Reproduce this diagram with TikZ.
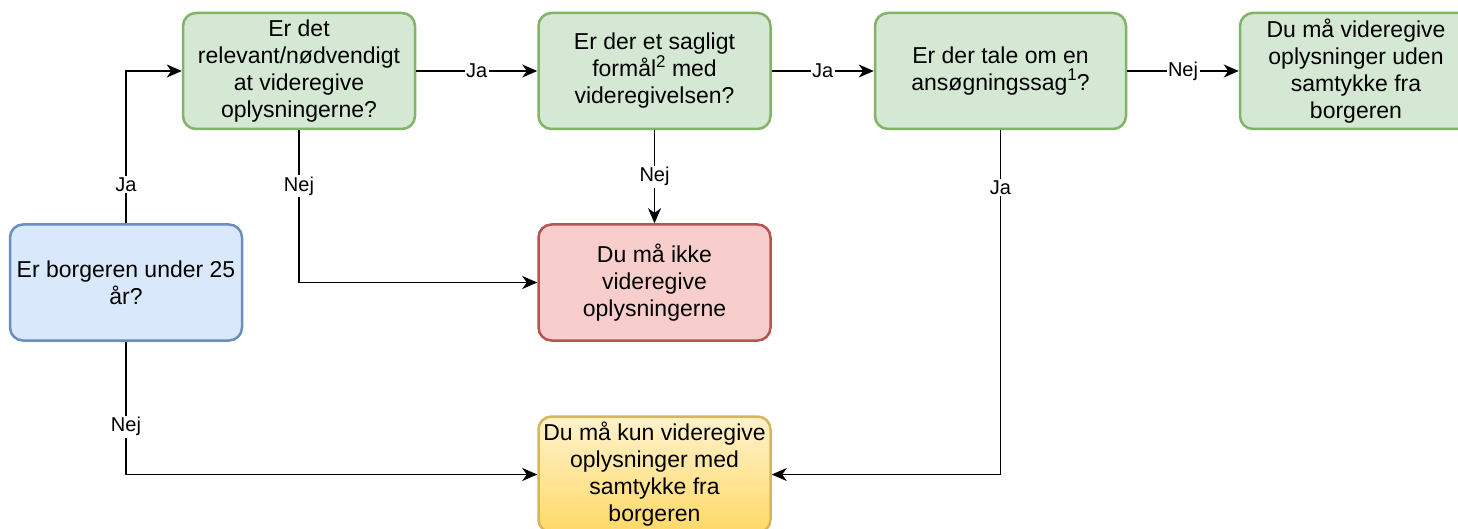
\documentclass[tikz,border=0pt]{standalone}
\usepackage{fontspec}
\setmainfont{Liberation Sans}
\usetikzlibrary{arrows.meta}
\definecolor{gbf}{HTML}{D5E8D4}
\definecolor{gbd}{HTML}{82B366}
\definecolor{bbf}{HTML}{DAE8FC}
\definecolor{bbd}{HTML}{6C8EBF}
\definecolor{rbf}{HTML}{F8CECC}
\definecolor{rbd}{HTML}{B85450}
\definecolor{ybt}{HTML}{FFF2CC}
\definecolor{ybb}{HTML}{FFD966}
\definecolor{ybd}{HTML}{D6B656}
\newcommand{\supx}[1]{\raisebox{0.42em}{\fontsize{17}{17}\selectfont #1}}
\tikzset{
  box/.style={rectangle, rounded corners=13pt, line width=2.5pt, minimum width=232pt, minimum height=116pt, inner sep=0pt, align=center, font=\fontsize{23}{27}\selectfont},
  greenbox/.style={box, draw=gbd, fill=gbf},
  bluebox/.style={box, draw=bbd, fill=bbf},
  redbox/.style={box, draw=rbd, fill=rbf},
  yellowbox/.style={box, draw=ybd, top color=ybt, bottom color=ybb},
  arr/.style={line width=1.8pt, -{Stealth[length=15pt,width=13pt,inset=4.5pt]}},
  lbl/.style={fill=white, inner sep=1.5pt, font=\fontsize{20}{23}\selectfont}
}
\begin{document}
\begin{tikzpicture}[x=1pt,y=-1pt]
\useasboundingbox (0,0) rectangle (1458,529);
\clip (0,0) rectangle (1458,529);
\fill[white] (0,0) rectangle (1458,529);
\node[bluebox] (q0) at (126,282.5) {Er borgeren under 25\\år?};
\node[greenbox] (q1) at (299,71) {Er det\\relevant/nødvendigt\\at videregive\\oplysningerne?};
\node[greenbox] (q2) at (654.5,71) {Er der et sagligt\\formål\supx{2} med\\videregivelsen?};
\node[greenbox, minimum width=251pt] (q3) at (1000.5,71) {Er der tale om en\\ansøgningssag\supx{1}?};
\node[greenbox] (a1) at (1356,71) {Du må videregive\\oplysninger uden\\samtykke fra\\borgeren};
\node[redbox] (a2) at (654.5,282.5) {Du må ikke\\videregive\\oplysningerne};
\node[yellowbox] (a3) at (654.5,474.5) {Du må kun videregive\\oplysninger med\\samtykke fra\\borgeren};

\draw[arr] (q0.north) |- node[lbl, pos=0.127] (l1) {Ja} (q1.west);
\draw[arr] (q0.south) |- node[lbl, pos=0.32] (l2) {Nej} (a3.west);
\draw[arr] (q1.south) |- node[lbl, pos=0.183] (l3) {Nej} (a2.west);
\draw[arr] (q1.east) -- node[lbl] (l4) {Ja} (q2.west);
\draw[arr] (q2.south) -- node[lbl] (l5) {Nej} (a2.north);
\draw[arr] (q2.east) -- node[lbl] (l6) {Ja} (q3.west);
\draw[arr] (q3.east) -- node[lbl] (l7) {Nej} (a1.west);
\draw[arr] (q3.south) |- node[lbl, pos=0.083] (l8) {Ja} (a3.east);
\end{tikzpicture}
\end{document}
